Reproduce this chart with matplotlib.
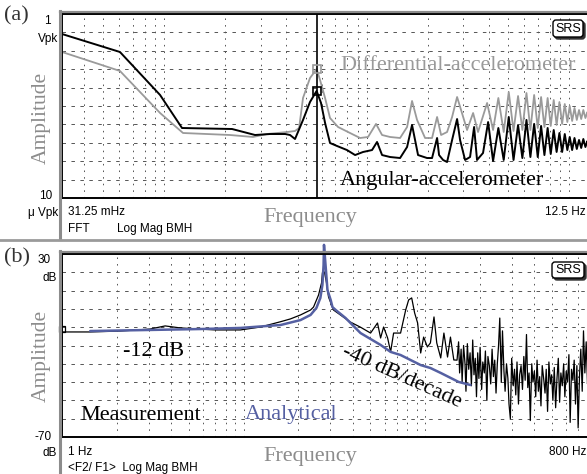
import matplotlib
matplotlib.use("Agg")
import matplotlib.pyplot as plt
from matplotlib.ticker import LogLocator, NullLocator, FixedLocator
from matplotlib.patches import FancyBboxPatch
from matplotlib.lines import Line2D
from matplotlib.transforms import IdentityTransform

# (a) spectra, Hz / Vpk
ang_f = [0.03125, 0.0604, 0.0953, 0.1223, 0.216, 0.2805, 0.333, 0.395, 0.4176, 0.442,
         0.484, 0.524, 0.555, 0.565, 0.594, 0.622, 0.658, 0.7125, 0.798, 0.875,
         0.958, 1.061, 1.123, 1.189, 1.302, 1.459, 1.580, 1.672, 1.730, 1.790,
         1.983, 2.099, 2.2225, 2.273, 2.379, 2.490, 2.636, 2.790, 2.886, 3.055,
         3.234, 3.385, 3.50, 3.747, 3.97, 4.2,
         4.46, 4.74, 5.02, 5.30, 5.58, 5.86, 6.14, 6.42, 6.70, 6.98,
         7.25, 7.53, 7.81, 8.09, 8.37, 8.65, 8.93, 9.21, 9.49, 9.77,
         10.04, 10.32, 10.60, 10.88, 11.16, 11.44, 11.72, 12.00, 12.28, 12.5]
ang_a = [0.286, 0.0928, 6.3e-3, 7.98e-4, 7.5e-4, 5.15e-4, 5.48e-4, 5.48e-4, 5.15e-4, 4.01e-4,
         1.32e-3, 4.06e-3, 6.9e-3, 8.1e-3, 3.82e-3, 1.09e-3, 3.12e-4, 2.59e-4, 2.01e-4, 1.47e-4,
         1.78e-4, 2.01e-4, 3.33e-4, 1.47e-4, 1.30e-4, 1.22e-4, 2.43e-4, 9.63e-4, 3.77e-4, 1.47e-4,
         1.22e-4, 1.22e-4, 4.27e-4, 1.47e-4, 1.08e-4, 9.51e-5, 3.77e-4, 1.40e-3, 3.77e-4, 1.08e-4,
         1.30e-4, 8.49e-4, 1.08e-4, 1.67e-4, 1.16e-3, 1.01e-4,
         7.98e-4, 1.08e-4, 1.59e-3, 1.08e-4, 9.63e-4, 1.22e-4, 1.32e-3, 1.30e-4, 1.03e-3, 1.30e-4,
         9.06e-4, 1.47e-4, 7.98e-4, 1.57e-4, 7.05e-4, 1.78e-4, 5.84e-4, 1.78e-4, 5.48e-4, 2.01e-4,
         4.55e-4, 2.01e-4, 4.27e-4, 2.15e-4, 3.77e-4, 2.29e-4, 4.01e-4, 2.43e-4, 3.54e-4, 2.6e-4]

diff_f = [0.03125, 0.0604, 0.0953, 0.1237, 0.211, 0.274, 0.3215, 0.404, 0.442, 0.463,
          0.484, 0.524, 0.555, 0.565, 0.5875, 0.622, 0.658, 0.721, 0.826, 0.926,
          1.014, 1.110, 1.189, 1.302, 1.459, 1.580, 1.672, 1.770, 1.939, 2.099,
          2.2225, 2.326, 2.490, 2.636, 2.790, 2.919, 3.125, 3.347, 3.54, 3.925, 4.2,
          4.46, 4.74, 5.02, 5.30, 5.58, 5.86, 6.14, 6.42, 6.70, 6.98,
          7.25, 7.53, 7.81, 8.09, 8.37, 8.65, 8.93, 9.21, 9.49, 9.77,
          10.04, 10.32, 10.60, 10.88, 11.16, 11.44, 11.72, 12.00, 12.28, 12.5]
diff_a = [0.0928, 0.0283, 2.04e-3, 5.84e-4, 5.15e-4, 4.55e-4, 5.48e-4, 6.21e-4, 6.62e-4, 7.98e-4,
          5.22e-3, 0.0182, 0.0280, 0.0319, 0.0161, 5.22e-3, 1.49e-3, 8.49e-4, 5.84e-4, 4.27e-4,
          4.55e-4, 1.03e-3, 5.15e-4, 4.55e-4, 4.27e-4, 8.49e-4, 4.33e-3, 1.32e-3, 4.27e-4, 4.27e-4,
          1.59e-3, 5.15e-4, 6.21e-4, 1.59e-3, 5.55e-3, 2.46e-3, 7.05e-4, 2.04e-3, 6.21e-4, 3.82e-3, 7.05e-4,
          5.22e-3, 6.21e-4, 7.59e-3, 6.62e-4, 5.91e-3, 7.05e-4, 7.13e-3, 7.05e-4, 6.30e-3, 7.98e-4,
          5.55e-3, 8.49e-4, 5.22e-3, 9.06e-4, 4.61e-3, 9.63e-4, 4.06e-3, 1.03e-3, 3.58e-3, 1.16e-3,
          3.16e-3, 1.24e-3, 2.79e-3, 1.32e-3, 2.46e-3, 1.40e-3, 2.46e-3, 1.49e-3, 2.17e-3, 1.6e-3]

cursor_f = 0.565

# (b) transfer function, Hz / dB
meas_f = [1.0, 1.43, 2.09, 3.06, 3.70, 4.48, 5.78, 6.99, 9.60, 12.4,
          16.0, 18.1, 20.6, 23.4, 24.3, 25.9, 26.9, 27.2, 27.9, 28.6,
          29.4, 31.3, 34.2, 38.8, 44.1, 50.1, 54.7, 56.9, 59.1, 62.2,
          64.6, 67.1, 73.3, 78.2, 81.2, 84.4, 87.6, 91.0, 94.6, 98.2,
          103, 107, 112, 116, 122, 127, 133, 138, 144]
meas_db = [-12.6, -12.6, -12.1, -11.0, -9.3, -10.4, -11.0, -11.5, -11.5, -9.9,
           -7.0, -5.5, -3.3, -0.6, 1.0, 7.6, 14.2, 19.6, 20.2, 14.7,
           6.5, -0.6, -3.3, -7.2, -10.0, -13.2, -7.7, -15.9, -9.9, -15.9,
           -23.5, -13.2, -13.2, -0.6, 4.9, 6.0, -2.2, -7.7, -24.1, -15.4,
           -20.8, -18.6, -4.4, -18.6, -26.8, -13.2, -26.3, -15.4, -27.9]

noise_f = [150, 153, 155, 158, 160, 163, 166, 168, 171, 174,
           177, 180, 183, 186, 189, 192, 195, 198, 201, 205,
           208, 212, 215, 219, 222, 226, 230, 234, 238, 242,
           246, 250, 254, 258, 263, 267, 272, 276, 281, 286,
           290, 295, 300, 306, 311, 316, 321, 327, 332, 338,
           344, 350, 356, 362, 368, 374, 380, 387, 393, 400,
           407, 414, 421, 428, 435, 442, 450, 458, 465, 473,
           481, 490, 498, 506, 515, 524, 533, 542, 551, 560,
           570, 580, 589, 599, 609, 620, 630, 641, 652, 663,
           674, 686, 697, 709, 721, 734, 746, 759, 772, 785, 800]
noise_db = [-28, -18, -35, -22, -40, -20, -30, -45, -19, -33,
            -24, -42, -17, -36, -27, -48, -24, -38, -21, -44,
            -29, -35, -23, -50, -26, -31, -41, -22, -37, -28,
            -46, -30, -20, -5, -40, -12, -34, -45, -30, -38,
            -52, -60, -27, -42, -33, -47, -29, -52, -36, -31,
            -44, -26, -39, -14, -43, -35, -61, -30, -40, -34,
            -48, -28, -45, -37, -53, -31, -38, -46, -33, -56,
            -29, -41, -36, -50, -32, -54, -38, -27, -51, -35,
            -42, -30, -48, -34, -40, -25, -62, -33, -39, -28,
            -52, -31, -65, -37, -22, -45, -12, -35, -18, -41, -24]

ana_f = [1.43, 5.78, 9.6, 16.0, 20.6, 23.4, 25.2, 26.5, 27.2, 27.6,
         27.75, 28.3, 29.0, 30.2, 30.9, 32.2, 36.5, 42.4, 44.1, 56.9,
         64.6, 73.3, 94.6, 107, 122, 153, 178]
ana_db = [-12.1, -11.0, -10.4, -8.8, -6.1, -3.3, 0.5, 6.0, 13.1, 23.9,
          35.0, 24.0, 10.3, 4.9, 1.0, -0.6, -5.0, -11.5, -13.2, -19.7,
          -23.5, -25.2, -30.7, -32.3, -35.0, -39.9, -41.6]

W, H = 587, 474
SERIF = ["Liberation Serif", "DejaVu Serif"]
SANS = ["Liberation Sans", "DejaVu Sans"]
GRAY = "#8c8c8c"
BLUE = "#5560a2"

fig = plt.figure(figsize=(W / 100, H / 100), dpi=100)


def box(l, t, r, b):
    return [l / W, 1 - b / H, (r - l) / W, (b - t) / H]


def txt(x, y, s, **kw):
    kw.setdefault("va", "center")
    fig.text(x / W, 1 - y / H, s, **kw)


def hline(x0, x1, y, **kw):
    fig.add_artist(Line2D([x0 / W, x1 / W], [1 - y / H, 1 - y / H], **kw))


def vline(x, y0, y1, **kw):
    fig.add_artist(Line2D([x / W, x / W], [1 - y0 / H, 1 - y1 / H], **kw))


def style(ax):
    ax.set_xscale("log")
    ax.xaxis.set_major_locator(LogLocator(base=10, subs=range(1, 10), numticks=60))
    ax.xaxis.set_minor_locator(NullLocator())
    ax.yaxis.set_minor_locator(NullLocator())
    ax.tick_params(which="both", length=0, labelbottom=False, labelleft=False)
    ax.grid(axis="x", color="#555555", lw=0.7, linestyle=(0, (1.6, 5.2)))
    ax.grid(axis="y", color="#555555", lw=0.7, linestyle=(0, (3.6, 5.6)))
    for s in ["top", "left", "bottom"]:
        ax.spines[s].set_linewidth(1.4)
    ax.spines["right"].set_visible(False)


ax1 = fig.add_axes(box(62, 14, 589, 198))
style(ax1)
ax1.set_yscale("log")
ax1.set_xlim(0.03125, 12.5)
ax1.set_ylim(1e-5, 1)
ax1.yaxis.set_major_locator(FixedLocator([10 ** (-0.5 * k) for k in range(1, 10)]))
ax1.plot(diff_f, diff_a, color="#9a9a9a", lw=1.3)
ax1.plot(ang_f, ang_a, color="black", lw=1.4)
ax1.axvline(cursor_f, color="black", lw=1.2)
ax1.plot([cursor_f], [max(diff_a[5:])], marker="s", ms=6, mfc="none", mec="#9a9a9a", mew=1.2)
ax1.plot([cursor_f], [max(ang_a[5:])], marker="s", ms=6, mfc="none", mec="black", mew=1.2)

ax2 = fig.add_axes(box(62, 254, 589, 437))
style(ax2)
ax2.set_xlim(1, 800)
ax2.set_ylim(-70, 30)
ax2.yaxis.set_major_locator(FixedLocator(range(-60, 30, 10)))
ax2.plot(meas_f + noise_f, meas_db + noise_db, color="black", lw=0.9)
ax2.plot(ana_f, ana_db, color=BLUE, lw=1.8, clip_on=False, solid_capstyle="round")
ax2.plot([meas_f[0]], [meas_db[0] + 1.5], marker="s", ms=4.5, mfc="none", mec="black",
         mew=0.9, clip_on=False)

# instrument frame
for top, bot in [(11.5, 239), (251.5, 474)]:
    hline(60, 587, top, color=GRAY, lw=1.6)
    vline(59.5, top - 0.5, bot, color=GRAY, lw=2.2)
hline(0, 587, 240, color="#9a9a9a", lw=2.0)

# SRS badges
for x0, y0, x1, y1 in [(553, 20, 583, 37), (552, 262, 584, 278)]:
    fig.add_artist(FancyBboxPatch((x0 + 2, H - y1 - 2), x1 - x0, y1 - y0,
                                  boxstyle="round,pad=0,rounding_size=3",
                                  fc="#333333", ec="#333333", transform=IdentityTransform()))
    fig.add_artist(FancyBboxPatch((x0, H - y1), x1 - x0, y1 - y0,
                                  boxstyle="round,pad=0,rounding_size=3",
                                  fc="white", ec="black", lw=1.0, transform=IdentityTransform()))
    txt((x0 + x1) / 2, (y0 + y1) / 2, "SRS", ha="center", fontsize=9, family=SANS)

# panel (a) texts
txt(4, 16, "(a)", ha="left", fontsize=16, family=SERIF, color="#333333")
txt(51, 21, "1", ha="right", fontsize=8.5, family=SANS)
txt(58, 39, "Vpk", ha="right", fontsize=8.5, family=SANS)
txt(52, 196, "10", ha="right", fontsize=8.5, family=SANS)
txt(58, 213, "μ Vpk", ha="right", fontsize=8.5, family=SANS)
txt(68, 212, "31.25 mHz", ha="left", fontsize=8.5, family=SANS)
txt(68, 229, "FFT", ha="left", fontsize=8.5, family=SANS)
txt(117, 229, "Log Mag BMH", ha="left", fontsize=8.5, family=SANS)
txt(586, 212, "12.5 Hz", ha="right", fontsize=8.5, family=SANS)
txt(310, 218, "Frequency", ha="center", fontsize=16, family=SERIF, color=GRAY)
txt(41, 118, "Amplitude", ha="center", rotation=90, fontsize=15.5, family=SERIF, color=GRAY)
txt(340, 65, "Differential-accelerometer", ha="left", fontsize=16, family=SERIF, color="#9a9a9a")
txt(340, 180, "Angular-accelerometer", ha="left", fontsize=16, family=SERIF)

# panel (b) texts
txt(4, 258, "(b)", ha="left", fontsize=16, family=SERIF, color="#333333")
txt(51, 260, "30", ha="right", fontsize=8.5, family=SANS)
txt(57, 278, "dB", ha="right", fontsize=8.5, family=SANS)
txt(52, 437, "-70", ha="right", fontsize=8.5, family=SANS)
txt(57, 453, "dB", ha="right", fontsize=8.5, family=SANS)
txt(68, 452, "1 Hz", ha="left", fontsize=8.5, family=SANS)
txt(68, 468, "<F2/ F1>  Log Mag BMH", ha="left", fontsize=8.5, family=SANS)
txt(586, 452, "800 Hz", ha="right", fontsize=8.5, family=SANS)
txt(310, 457, "Frequency", ha="center", fontsize=16, family=SERIF, color=GRAY)
txt(41, 356, "Amplitude", ha="center", rotation=90, fontsize=15.5, family=SERIF, color=GRAY)
txt(123, 352, "-12 dB", ha="left", fontsize=16, family=SERIF)
txt(80, 415, "Measurement", ha="left", fontsize=16, family=SERIF)
txt(245, 415, "Analytical", ha="left", fontsize=16, family=SERIF, color=BLUE)
txt(402, 377, "-40 dB/decade", ha="center", rotation=-24, rotation_mode="anchor",
    fontsize=16, family=SERIF)

fig.savefig("out.png", dpi=100, facecolor="white")
